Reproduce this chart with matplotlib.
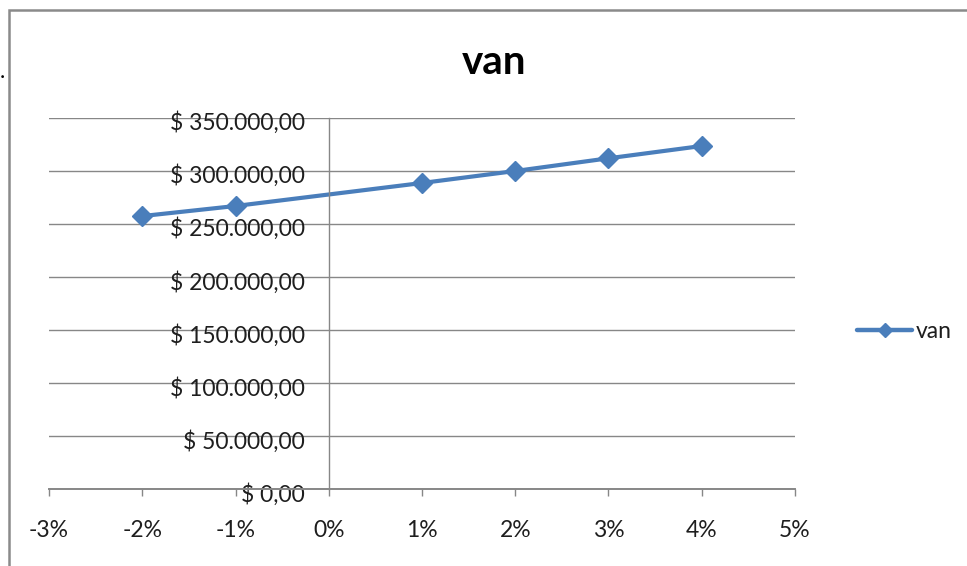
import matplotlib.pyplot as plt
from matplotlib.lines import Line2D
from matplotlib.patches import Rectangle
from matplotlib.ticker import FuncFormatter, MultipleLocator
from matplotlib.transforms import ScaledTranslation

plt.rcParams['font.family'] = ['Lato', 'DejaVu Sans']

# tasa de descuento (%) y valor actual neto
tasas = [-2, -1, 1, 2, 3, 4]
van = [257500, 267000, 288700, 300000, 312000, 323600]
serie = "van"

azul = "#4a7ebb"
gris = "#878787"
texto = "#1e1e1e"


def pesos(v, pos):
    entero = f"{int(round(v)):,}".replace(",", ".")
    return f"$ {entero},00"


fig = plt.figure(figsize=(9.67, 5.66), dpi=100)
ax = fig.add_axes([0.0507, 0.136, 0.7714, 0.6555])

ax.plot(tasas, van, color=azul, lw=3, marker="D", ms=10,
        markeredgecolor=azul, solid_capstyle="round")

ax.set_xlim(-3, 5)
ax.set_ylim(0, 350000)
ax.xaxis.set_major_locator(MultipleLocator(1))
ax.yaxis.set_major_locator(MultipleLocator(50000))
ax.xaxis.set_major_formatter(FuncFormatter(lambda v, p: f"{int(round(v))}%"))
ax.yaxis.set_major_formatter(FuncFormatter(pesos))

ax.grid(axis="y", color=gris, lw=1.0)
ax.set_axisbelow(True)
for s in ["top", "right"]:
    ax.spines[s].set_visible(False)
ax.spines["left"].set_position(("data", 0))
ax.spines["left"].set_color(gris)
ax.spines["bottom"].set_color(gris)
ax.spines["left"].set_linewidth(1.0)
ax.spines["bottom"].set_linewidth(1.4)

ax.tick_params(axis="y", length=0, pad=17, labelsize=16.5, labelcolor=texto)
ax.tick_params(axis="x", length=5, width=1.0, color=gris, direction="out",
               pad=17, labelsize=16.5, labelcolor=texto)

# etiquetas del eje y un poco por debajo de su línea de grilla
bajar = ScaledTranslation(0, -3 / 100, fig.dpi_scale_trans)
for t in ax.yaxis.get_major_ticks():
    t.label1.set_transform(t.label1.get_transform() + bajar)

fig.text(0.511, 1 - 62 / 566, "van", ha="center", va="center", fontsize=29,
         fontweight="bold", color="black")

muestra = Line2D([], [], color=azul, lw=3.2, marker="D", ms=7,
                 markeredgecolor=azul, solid_capstyle="round")
fig.legend([muestra], [serie], loc="center left",
           bbox_to_anchor=(857 / 967, 1 - 332 / 566), frameon=False,
           fontsize=16.5, handlelength=2.4, handletextpad=0.15,
           borderpad=0, borderaxespad=0, labelcolor=texto)

# marco del gráfico
fig.patches.append(Rectangle((9 / 967, -0.1), 1.2, 1.1 - 10 / 566,
                             transform=fig.transFigure, fill=False,
                             edgecolor="#8a8a8a", lw=1.8))
fig.text(0.0, 1 - 72 / 566, ".", fontsize=16, color="black", va="center")

fig.savefig("out.png", dpi=100)
